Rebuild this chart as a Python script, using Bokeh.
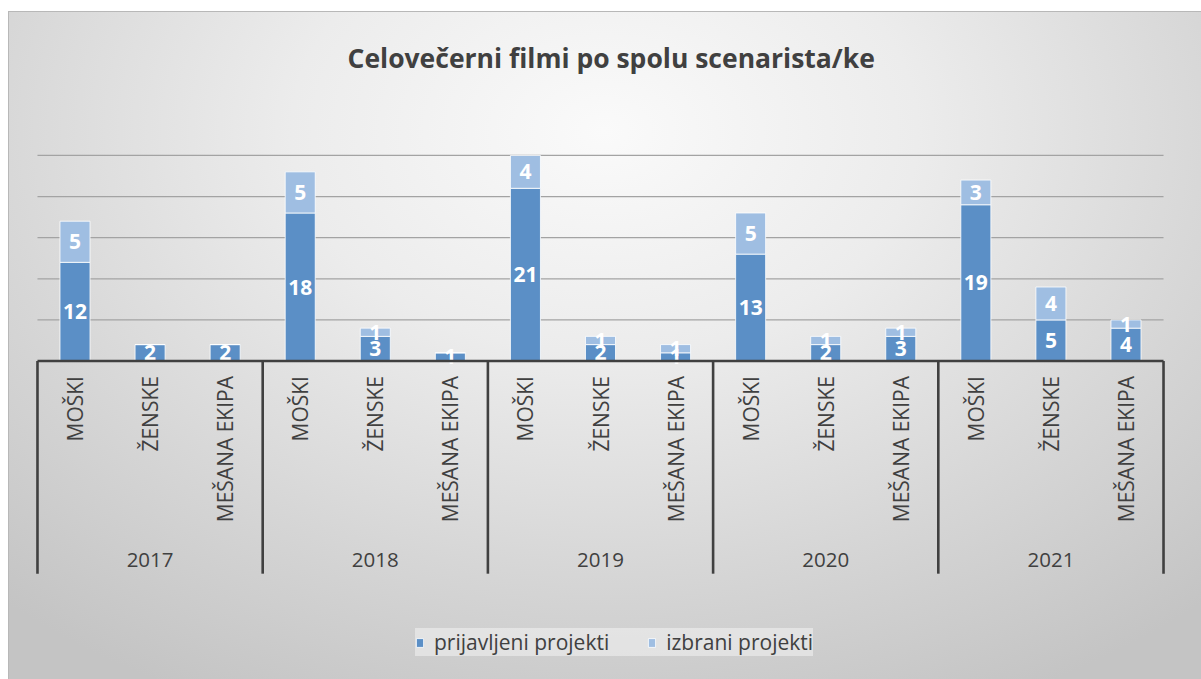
import numpy as np
from bokeh.plotting import figure
from bokeh.models import ColumnDataSource, FactorRange, Range1d
from bokeh.core.properties import value
from bokeh.embed import file_html
from bokeh.resources import INLINE

# ---------------- data ----------------
years = ["2017", "2018", "2019", "2020", "2021"]
categories = ["MOŠKI", "ŽENSKE", "MEŠANA EKIPA"]
prijavljeni = [12, 2, 2, 18, 3, 1, 21, 2, 1, 13, 2, 3, 19, 5, 4]
izbrani = [5, 0, 0, 5, 1, 0, 4, 1, 1, 5, 1, 1, 3, 4, 1]
series_names = ["prijavljeni projekti", "izbrani projekti"]
grid_values = [5, 10, 15, 20, 25]
title_text = "Celovečerni filmi po spolu scenarista/ke"

# ---------------- style ----------------
DARK = "#5b8fc6"
LIGHT = "#9fbee2"
TEXT = "#404040"
AXIS = "#404040"
FONT = "Open Sans"

W, H = 1193, 668
FRAME_LEFT, FRAME_RIGHT = 25, 34      # borders (px)
FRAME_TOP = 89
PXU = 8.24                             # pixels per value unit
BASE_FROM_FRAME_TOP = 260              # baseline position inside frame (px)
frame_h = H - FRAME_TOP
y_end = BASE_FROM_FRAME_TOP / PXU
y_start = -(frame_h - BASE_FROM_FRAME_TOP) / PXU

factors = [(y, c) for y in years for c in categories]
n = len(factors)

p = figure(
    width=W, height=H,
    x_range=FactorRange(factors=factors, group_padding=0, factor_padding=0,
                        range_padding=0.053, range_padding_units="absolute"),
    y_range=Range1d(y_start, y_end),
    x_axis_location=None, y_axis_location=None,
    toolbar_location=None, output_backend="svg",
    min_border_left=FRAME_LEFT, min_border_right=FRAME_RIGHT,
    min_border_top=FRAME_TOP, min_border_bottom=0,
    title=title_text,
)
p.border_fill_color = None
p.background_fill_color = None
p.outline_line_color = None
p.xgrid.grid_line_color = None
p.ygrid.grid_line_color = None
p.styles = {
    "margin-left": "8px",
    "margin-top": "11px",
    "background": "radial-gradient(ellipse 75% 95% at 50% 18%, #fafafa 0%, #ececec 35%, #d6d6d6 70%, #c4c4c4 100%)",
    "box-shadow": "inset 1px 1px 0 #b8b8b8",
}

p.title.align = "left"
p.title.offset = 314
p.title.text_font = FONT
p.title.text_font_size = "26.5px"
p.title.text_font_style = "bold"
p.title.text_color = TEXT
p.title.standoff = 52

# gridlines
p.segment(x0=[0] * len(grid_values), x1=[n] * len(grid_values),
          y0=grid_values, y1=grid_values, line_color="#a3a3a3", line_width=1.3)

# stacked bars
src = ColumnDataSource(dict(x=factors, prijavljeni=prijavljeni, izbrani=izbrani))
p.vbar_stack(["prijavljeni", "izbrani"], x="x", width=0.4, source=src,
             color=[DARK, LIGHT], line_color="white", line_width=1, line_alpha=0.8,
             legend_label=series_names)

# value labels
lx, ly, lt = [], [], []
for f, d, s in zip(factors, prijavljeni, izbrani):
    if d:
        lx.append(f); ly.append(d / 2); lt.append(str(d))
    if s:
        lx.append(f); ly.append(d + s / 2); lt.append(str(s))
p.text(x=lx, y=ly, text=lt, text_color="white", text_font=value(FONT),
       text_font_style="bold", text_font_size="21px",
       text_align="center", text_baseline="middle")

# category axis (drawn inside frame)
p.segment(x0=[0], x1=[n], y0=[0], y1=[0], line_color=AXIS, line_width=2.6)
seps = [i * len(categories) for i in range(len(years) + 1)]
p.segment(x0=seps, x1=seps, y0=[0] * len(seps), y1=[-213 / PXU] * len(seps),
          line_color=AXIS, line_width=2.6)
p.text(x=factors, y=[-15 / PXU] * n, text=[c for (_, c) in factors],
       angle=np.pi / 2, text_align="right", text_baseline="middle",
       text_color=TEXT, text_font=value(FONT), text_font_size="21px")
p.text(x=years, y=[-199 / PXU] * len(years), text=years,
       text_align="center", text_baseline="middle",
       text_color=TEXT, text_font=value(FONT), text_font_size="20.5px")

# legend
lg = p.legend[0]
lg.orientation = "horizontal"
lg.location = (382, 23)
lg.label_text_font = FONT
lg.label_text_font_size = "21px"
lg.label_text_color = TEXT
lg.glyph_width = 9
lg.glyph_height = 11
lg.label_standoff = 10
lg.spacing = 38
lg.padding = 14
lg.margin = 0
lg.border_line_color = None
lg.background_fill_color = "#f0f0f0"
lg.background_fill_alpha = 0.6

open("out.html", "w").write(file_html(p, INLINE))
